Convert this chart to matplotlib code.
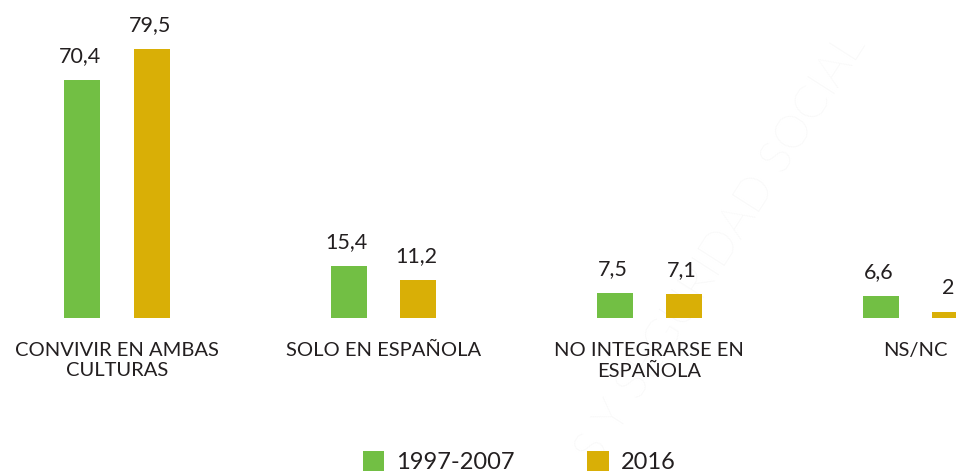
import matplotlib
matplotlib.use("Agg")
import matplotlib.pyplot as plt
import numpy as np

categories = ["CONVIVIR EN AMBAS\nCULTURAS", "SOLO EN ESPAÑOLA", "NO INTEGRARSE EN\nESPAÑOLA", "NS/NC"]
series_names = ["1997-2007", "2016"]
values_1997_2007 = [70.4, 15.4, 7.5, 6.6]
values_2016 = [79.5, 11.2, 7.1, 2.0]
labels_1997_2007 = ["70,4", "15,4", "7,5", "6,6"]
labels_2016 = ["79,5", "11,2", "7,1", "2"]

GREEN = "#72BF44"
GOLD = "#D9AF06"
TEXT = "#231F20"

plt.rcParams['font.family'] = ['Lato', 'DejaVu Sans']

W, H = 956, 474
fig = plt.figure(figsize=(W / 100, H / 100), dpi=100)
base_px = 318.3
ax = fig.add_axes([0, (H - base_px) / H, 1, base_px / H])
ax.patch.set_visible(False)

x = np.arange(len(categories))
bw = 0.135
off = 0.130
b1 = ax.bar(x - off, values_1997_2007, bw, color=GREEN, label=series_names[0])
b2 = ax.bar(x + off, values_2016, bw, color=GOLD, label=series_names[1])

for bars, labs in ((b1, labels_1997_2007), (b2, labels_2016)):
    for r, t in zip(bars, labs):
        ax.annotate(t, (r.get_x() + r.get_width() / 2, r.get_height()),
                    xytext=(-2, 18), textcoords='offset pixels',
                    ha='center', va='baseline', fontsize=15.5, color=TEXT,
                    annotation_clip=False)

ax.set_ylim(0, base_px / 3.385)
ax.set_xlim(-117 / 266.2, (W - 117) / 266.2)
ax.set_xticks(x)
ax.set_xticklabels(categories, fontsize=14.5, color=TEXT, linespacing=1.25)
ax.tick_params(axis='x', length=0, pad=17)
ax.set_yticks([])
for s in ax.spines.values():
    s.set_visible(False)

fig.text(721 / W, 1 - 249 / H, "S Y SEGURIDAD SOCIAL", rotation=57.4,
         ha='center', va='center', fontsize=33, fontweight='light',
         color='#F4F4F4', zorder=-1)

fig.legend(handles=[b1, b2], labels=series_names, loc='center',
           bbox_to_anchor=(519 / W, 12 / H), ncol=2, frameon=False,
           fontsize=17, handlelength=0.9, handleheight=0.9,
           handletextpad=0.5, columnspacing=3.1, borderpad=0,
           labelcolor=TEXT)

fig.savefig("out.png", dpi=100)
